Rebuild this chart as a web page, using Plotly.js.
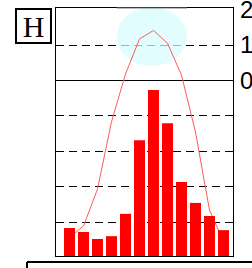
<!DOCTYPE html>
<html>
<head>
<meta charset="utf-8">
<script src="https://cdn.plot.ly/plotly-3.0.1.min.js"></script>
<style>html,body{margin:0;padding:0;background:#fff;}#chart{width:252px;height:268px;}</style>
</head>
<body>
<div id="chart"></div>
<script>
// Monthly data
var months = ['Jan','Feb','Mar','Apr','May','Jun','Jul','Aug','Sep','Oct','Nov','Dec'];
var precipitation = [7.9, 6.8, 4.8, 5.6, 11.9, 32.7, 46.9, 37.5, 20.9, 15.0, 11.3, 7.3];
var temperature = [-44.4, -41.1, -30.7, -11.7, 1.8, 11.7, 14.1, 10.5, 1.5, -14.6, -36.6, -45.6];
var gridValues = [-40, -30, -20, -10, 0, 10];
var labelValues = [0, 10, 20];
var labelText = ['0', '10', '20'];
var panelLabel = 'H';

var tempRange = [-49.6, 20.45];
var span = tempRange[1] - tempRange[0];
var precipRange = [0, span];          // same unit size as the temperature axis
var xRange = [-0.964, 11.679];

var traces = [
  {
    type: 'scatter', mode: 'lines', x: months, y: temperature,
    xaxis: 'x', yaxis: 'y',
    line: {color: '#ff5a5a', width: 1}, hoverinfo: 'skip'
  },
  {
    type: 'bar', x: months, y: precipitation,
    xaxis: 'x', yaxis: 'y2', width: 0.786,
    marker: {color: '#ff0000', line: {width: 0}}, hoverinfo: 'skip'
  }
];

var layout = {
  width: 252, height: 268,
  margin: {l: 56, r: 19, t: 8, b: 12, pad: 0},
  paper_bgcolor: '#ffffff', plot_bgcolor: '#ffffff',
  showlegend: false,
  xaxis: {
    type: 'category', range: xRange, showticklabels: false, ticks: '',
    showgrid: false, zeroline: false,
    showline: true, linecolor: '#000', linewidth: 1, mirror: true
  },
  yaxis: {
    range: tempRange, side: 'left', tickmode: 'array', tickvals: gridValues,
    showticklabels: false, ticks: '',
    showgrid: true, gridcolor: '#000', gridwidth: 1, griddash: '8px,5px',
    zeroline: true, zerolinecolor: '#000', zerolinewidth: 1,
    showline: true, linecolor: '#000', linewidth: 1, mirror: true
  },
  yaxis2: {
    overlaying: 'y', side: 'right', range: precipRange,
    tickmode: 'array',
    tickvals: labelValues.map(function (v) { return v - tempRange[0]; }),
    ticktext: labelText, ticks: '', ticklabelstandoff: 6, ticklabeloverflow: 'allow',
    showgrid: false, zeroline: false, showline: false,
    tickfont: {family: 'Liberation Sans, Arial, sans-serif', size: 24, color: '#000'}
  },
  shapes: [
    {
      type: 'circle', xref: 'x', yref: 'y', x0: 3.372, x1: 8.393, y0: 4.07, y1: 20.7,
      layer: 'between', fillcolor: 'rgb(215,252,252)', opacity: 0.72, line: {width: 0}
    },
    {
      type: 'line', xref: 'x', yref: 'paper', x0: 3.372, x1: 8.393, y0: 1, y1: 1,
      layer: 'above', line: {color: '#808080', width: 1}
    },
    {
      type: 'line', xref: 'paper', yref: 'paper', x0: -0.1638, x1: 1.2, y0: -0.0242, y1: -0.0242,
      layer: 'above', line: {color: '#000', width: 2}
    },
    {
      type: 'line', xref: 'paper', yref: 'paper', x0: -0.1638, x1: -0.1638, y0: -0.0242, y1: -0.06,
      layer: 'above', line: {color: '#000', width: 2}
    }
  ],
  annotations: [
    {
      text: panelLabel, xref: 'paper', yref: 'paper', x: -0.129, y: 0.929,
      xanchor: 'center', yanchor: 'middle', showarrow: false,
      font: {family: 'Liberation Serif, Times New Roman, serif', size: 30, color: '#000'},
      bordercolor: '#000', borderwidth: 2, borderpad: 0, width: 33, height: 32, bgcolor: '#fff'
    }
  ]
};

Plotly.newPlot('chart', traces, layout, {staticPlot: true, displayModeBar: false});
</script>
</body>
</html>
